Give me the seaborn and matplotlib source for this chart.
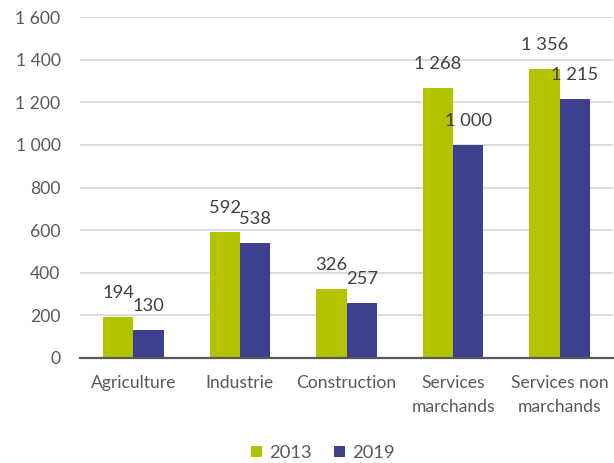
import matplotlib
matplotlib.use("Agg")
import matplotlib.pyplot as plt
import seaborn as sns
import pandas as pd
from matplotlib.patches import Patch

# Data: employment by sector, 2013 vs 2019
categories = ["Agriculture", "Industrie", "Construction",
              "Services\nmarchands", "Services non\nmarchands"]
values_2013 = [194, 592, 326, 1268, 1356]
values_2019 = [130, 538, 257, 1000, 1215]
years = ["2013", "2019"]
y_ticks = [0, 200, 400, 600, 800, 1000, 1200, 1400, 1600]

colors = {"2013": "#b3c300", "2019": "#3d3f8f"}
text_color = "#595959"
label_color = "#404040"
fs = 12.6

df = pd.DataFrame({
    "Secteur": categories * 2,
    "Valeur": values_2013 + values_2019,
    "Année": [years[0]] * len(categories) + [years[1]] * len(categories),
})

sns.set_theme(style="white")
plt.rcParams["font.family"] = ["Lato", "DejaVu Sans"]


def fr(v):
    return f"{v:,.0f}".replace(",", " ")


fig = plt.figure(figsize=(6.14, 4.63), dpi=100)
ax = fig.add_axes([80 / 614, 1 - 358 / 463, 533 / 614, 341 / 463])

sns.barplot(data=df, x="Secteur", y="Valeur", hue="Année",
            palette=colors, width=0.57, gap=0, saturation=1,
            linewidth=0, edgecolor="none", legend=False, ax=ax)

for container in ax.containers:
    ax.bar_label(container, labels=[fr(b.get_height()) for b in container],
                 padding=11.5, fontsize=13.2, color=label_color)

ax.set_ylim(0, 1600)
ax.set_yticks(y_ticks)
ax.set_yticklabels([fr(t) for t in y_ticks])
ax.set_xticks(range(len(categories)))
ax.set_xticklabels(categories, linespacing=1.55)
ax.set_xlabel("")
ax.set_ylabel("")
ax.grid(axis="y", color="#d9d9d9", linewidth=1.3)
ax.set_axisbelow(True)
for side in ["left", "right", "top"]:
    ax.spines[side].set_visible(False)
ax.spines["bottom"].set_color("#595959")
ax.spines["bottom"].set_linewidth(1.6)
ax.tick_params(axis="both", length=0, labelsize=fs, colors=text_color)
ax.tick_params(axis="y", pad=14)
ax.tick_params(axis="x", pad=12.5)

handles = [Patch(facecolor=colors[y], edgecolor="none", label=y) for y in years]
fig.legend(handles=handles, loc="center", bbox_to_anchor=(323 / 614, 1 - 453 / 463),
           ncol=2, frameon=False, fontsize=13.2, labelcolor=text_color,
           handlelength=0.6, handleheight=0.6, handletextpad=0.4,
           columnspacing=1.2)

fig.savefig("out.png", dpi=100)
